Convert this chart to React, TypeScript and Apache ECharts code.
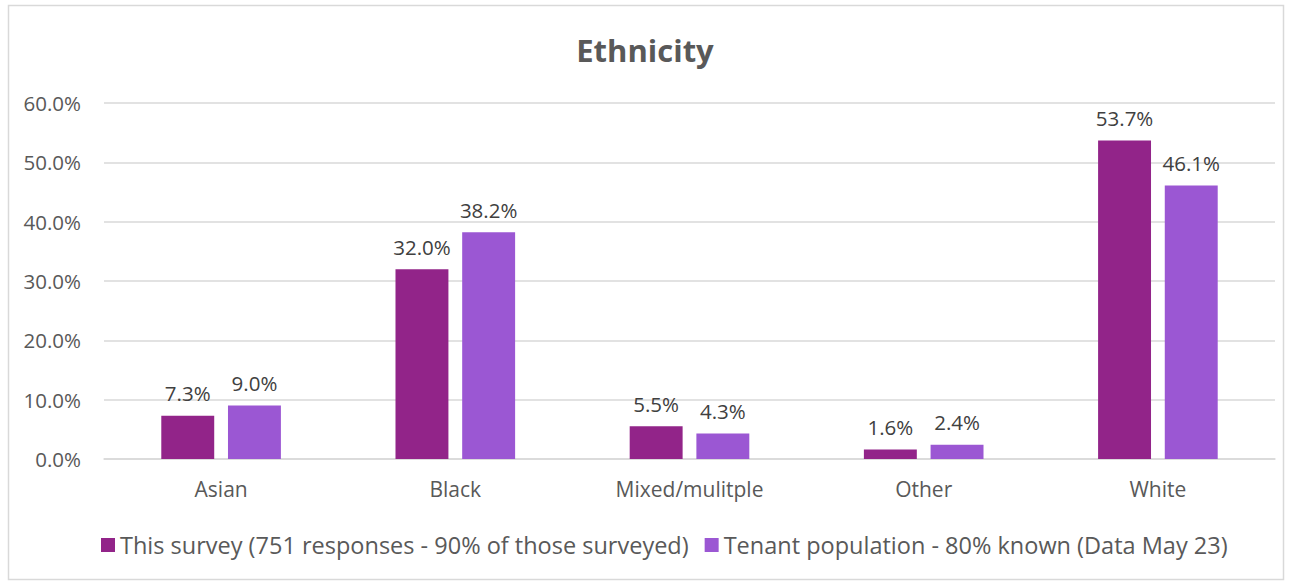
import React, { useEffect, useRef } from "react";
import * as echarts from "echarts";

const categories = ["Asian", "Black", "Mixed/mulitple", "Other", "White"];
const surveyValues = [7.3, 32.0, 5.5, 1.6, 53.7];
const tenantValues = [9.0, 38.2, 4.3, 2.4, 46.1];
const seriesNames = [
  "This survey (751 responses - 90% of those surveyed)",
  "Tenant population - 80% known (Data May 23)",
];

const FONT = "'Open Sans', sans-serif";

export default function App() {
  const ref = useRef<HTMLDivElement>(null);
  useEffect(() => {
    if (!ref.current) return;
    const chart = echarts.init(ref.current, undefined, { renderer: "svg" });
    const label = {
      show: true,
      position: "top",
      distance: 12,
      color: "#404040",
      fontSize: 20.5,
      fontFamily: FONT,
      formatter: (p: any) => Number(p.value).toFixed(1) + "%",
    };
    chart.setOption({
      animation: false,
      backgroundColor: "#ffffff",
      textStyle: { fontFamily: FONT },
      title: {
        text: "Ethnicity",
        left: "center",
        top: 29,
        textStyle: { fontSize: 31, fontWeight: "bold", color: "#595959", fontFamily: FONT },
      },
      graphic: [
        {
          type: "rect",
          shape: { x: 8.5, y: 5.5, width: 1275, height: 574 },
          style: { fill: "none", stroke: "#d9d9d9", lineWidth: 1.5 },
          silent: true,
        },
      ],
      legend: {
        bottom: 20,
        left: 96,
        itemWidth: 14,
        itemHeight: 14,
        itemGap: 16,
        icon: "rect",
        textStyle: { fontSize: 23.5, color: "#595959", fontFamily: FONT },
        data: seriesNames,
      },
      grid: { left: 104, right: 15, top: 103, bottom: 123 },
      xAxis: {
        type: "category",
        data: categories,
        axisLine: { lineStyle: { color: "#d9d9d9", width: 1.5 } },
        axisTick: { show: false },
        axisLabel: { color: "#595959", fontSize: 21, margin: 19, fontFamily: FONT },
      },
      yAxis: {
        type: "value",
        min: 0,
        max: 60,
        interval: 10,
        axisLine: { show: false },
        axisTick: { show: false },
        splitLine: { lineStyle: { color: "#d9d9d9", width: 1.5 } },
        axisLabel: {
          color: "#595959",
          fontSize: 20.5,
          margin: 23,
          fontFamily: FONT,
          formatter: (v: number) => v.toFixed(1) + "%",
        },
      },
      series: [
        {
          name: seriesNames[0],
          type: "bar",
          data: surveyValues,
          barWidth: "22.6%",
          barGap: "26%",
          itemStyle: { color: "#922489" },
          label,
        },
        {
          name: seriesNames[1],
          type: "bar",
          data: tenantValues,
          barWidth: "22.6%",
          itemStyle: { color: "#9B57D3" },
          label,
        },
      ],
    });
    return () => chart.dispose();
  }, []);
  return (
    <div
      ref={ref}
      style={{ position: "absolute", left: 0, top: 0, width: 1290, height: 582 }}
    />
  );
}
